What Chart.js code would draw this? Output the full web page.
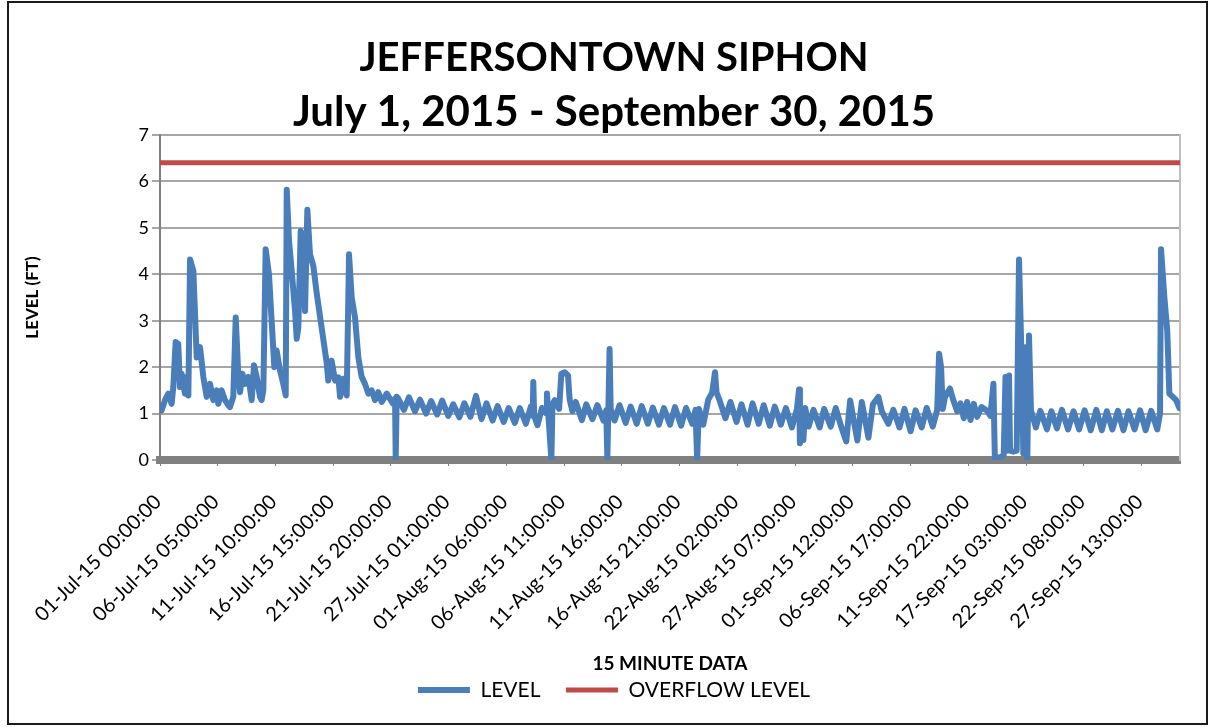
<!DOCTYPE html>
<html>
<head>
<meta charset="utf-8">
<title>Jeffersontown Siphon</title>
<script src="https://cdn.jsdelivr.net/npm/chart.js@4.4.1/dist/chart.umd.min.js"></script>
<style>
  html, body { margin: 0; padding: 0; background: #fff; }
  #wrap { position: relative; width: 1213px; height: 727px; }
  #wrap canvas { position: absolute; left: 0; top: 0; }
  #frame { position: absolute; left: 7px; top: 1px; width: 1201px; height: 724px;
           border: 2px solid #1a1a1a; box-sizing: border-box; pointer-events: none; }
</style>
</head>
<body>
<div id="wrap">
  <canvas id="chart" width="1213" height="727"></canvas>
  <div id="frame"></div>
</div>
<script>
// time axis is in days since 01-Jul-15 00:00 (15 minute samples)
const levelDays = [
  0.15, 0.45, 0.75, 1.05, 1.20, 1.41, 1.65, 1.80, 1.95, 2.25, 2.41, 2.56, 2.71, 3.01, 3.31, 3.61,
  3.91, 4.21, 4.51, 4.81, 5.11, 5.26, 5.56, 5.86, 6.16, 6.31, 6.61, 6.83, 7.07, 7.22, 7.43, 7.67,
  7.97, 8.27, 8.48, 8.72, 9.02, 9.17, 9.32, 9.53, 9.83, 10.07, 10.31, 10.52, 10.82, 11.12, 11.34, 11.43,
  11.64, 11.88, 12.18, 12.33, 12.48, 12.69, 12.93, 13.08, 13.29, 13.53, 13.83, 14.13, 14.43, 14.73, 15.03, 15.18,
  15.48, 15.79, 16.09, 16.24, 16.54, 16.84, 17.05, 17.29, 17.59, 17.89, 18.19, 18.49, 18.79, 19.09, 19.39, 19.69,
  20.00, 20.45, 21.00, 21.20, 21.26, 21.35, 21.50, 22.00, 22.45, 23.00, 23.45, 24.00, 24.45, 25.00, 25.45, 26.00,
  26.45, 27.00, 27.45, 28.00, 28.50, 29.00, 29.45, 30.00, 30.45, 31.00, 31.45, 32.00, 32.45, 33.00, 33.45, 33.62,
  33.67, 33.75, 34.05, 34.45, 34.85, 34.90, 35.03, 35.30, 35.40, 35.60, 36.00, 36.20, 36.50, 36.80, 36.95, 37.20,
  37.50, 38.05, 38.45, 39.00, 39.45, 40.00, 40.25, 40.35, 40.55, 40.65, 41.00, 41.45, 42.00, 42.45, 43.00, 43.45,
  44.00, 44.45, 45.00, 45.45, 46.00, 46.45, 47.00, 47.45, 48.00, 48.30, 48.45, 48.60, 49.00, 49.45, 49.80, 50.06,
  50.20, 50.45, 51.00, 51.45, 52.00, 52.45, 53.00, 53.45, 54.00, 54.45, 55.00, 55.45, 56.00, 56.45, 57.00, 57.45,
  57.64, 57.72, 57.90, 58.03, 58.20, 58.50, 58.95, 59.50, 59.90, 60.50, 60.95, 61.40, 61.90, 62.25, 62.90, 63.30,
  63.90, 64.30, 64.80, 65.10, 65.70, 66.15, 66.70, 67.15, 67.70, 68.15, 68.70, 69.15, 69.70, 70.10, 70.27, 70.45,
  70.60, 70.80, 71.25, 71.55, 71.90, 72.20, 72.50, 72.80, 73.10, 73.40, 73.70, 74.10, 74.60, 74.90, 75.17, 75.30,
  75.80, 76.10, 76.26, 76.37, 76.58, 76.67, 76.97, 77.27, 77.48, 77.72, 77.87, 78.02, 78.23, 78.38, 78.56, 79.00,
  79.40, 80.00, 80.40, 80.90, 81.35, 81.90, 82.40, 82.90, 83.40, 83.95, 84.45, 84.95, 85.40, 85.90, 86.40, 86.90,
  87.35, 87.90, 88.40, 88.90, 89.40, 89.95, 90.20, 90.29, 90.59, 90.85, 91.04, 91.35, 91.65, 91.95
];
const levelFt = [
  1.07, 1.29, 1.43, 1.21, 1.57, 2.54, 2.50, 1.57, 1.86, 1.43, 1.79, 1.39, 4.32, 4.07, 2.21, 2.43,
  1.79, 1.36, 1.64, 1.29, 1.50, 1.21, 1.50, 1.29, 1.18, 1.14, 1.36, 3.07, 1.79, 1.46, 1.86, 1.64,
  1.79, 1.29, 2.04, 1.79, 1.36, 1.29, 1.50, 4.54, 4.00, 3.00, 2.00, 2.36, 1.93, 1.64, 1.39, 5.82,
  4.71, 4.07, 3.21, 2.61, 2.86, 4.93, 4.79, 3.21, 5.39, 4.43, 4.18, 3.60, 3.10, 2.60, 2.10, 1.71,
  2.14, 1.71, 1.78, 1.36, 1.75, 1.39, 4.43, 3.50, 3.07, 2.21, 1.79, 1.64, 1.43, 1.50, 1.29, 1.46,
  1.25, 1.43, 1.22, 1.32, 0.02, 1.36, 1.32, 1.08, 1.35, 1.05, 1.30, 1.00, 1.27, 0.98, 1.28, 0.95,
  1.20, 0.92, 1.22, 0.93, 1.38, 0.88, 1.22, 0.85, 1.16, 0.82, 1.12, 0.80, 1.12, 0.78, 1.15, 0.95,
  1.68, 0.95, 0.75, 1.12, 1.00, 1.43, 0.96, 0.02, 1.20, 1.29, 1.10, 1.86, 1.89, 1.82, 1.30, 1.05,
  1.25, 0.86, 1.20, 0.88, 1.18, 0.85, 1.07, 0.02, 2.39, 1.10, 0.85, 1.18, 0.80, 1.15, 0.78, 1.16,
  0.78, 1.13, 0.76, 1.12, 0.76, 1.14, 0.74, 1.12, 0.78, 1.08, 0.02, 1.10, 0.76, 1.30, 1.45, 1.89,
  1.45, 1.30, 0.90, 1.25, 0.82, 1.20, 0.76, 1.22, 0.78, 1.18, 0.74, 1.15, 0.76, 1.12, 0.70, 1.10,
  1.52, 0.36, 1.00, 0.43, 1.12, 0.72, 1.08, 0.70, 1.10, 0.72, 1.12, 0.75, 0.40, 1.28, 0.42, 1.25,
  0.48, 1.20, 1.36, 1.05, 0.78, 1.08, 0.70, 1.10, 0.62, 1.07, 0.70, 1.12, 0.72, 1.08, 2.29, 2.00,
  1.10, 1.36, 1.54, 1.29, 1.05, 1.22, 0.90, 1.25, 0.86, 1.21, 0.93, 1.14, 1.06, 0.95, 1.64, 0.05,
  0.06, 0.10, 1.79, 0.20, 1.82, 0.20, 0.18, 0.20, 4.32, 2.07, 0.14, 2.43, 0.03, 2.68, 1.07, 0.70,
  1.06, 0.66, 1.05, 0.68, 1.08, 0.66, 1.05, 0.66, 1.07, 0.64, 1.08, 0.64, 1.05, 0.66, 1.06, 0.64,
  1.05, 0.66, 1.07, 0.64, 1.06, 0.66, 1.00, 4.54, 3.50, 2.79, 1.43, 1.36, 1.29, 1.12
];
const overflowDays = [0, 92];
const overflowFt = [6.4, 6.4];

const tickLabels = [
  '01-Jul-15 00:00:00', '06-Jul-15 05:00:00', '11-Jul-15 10:00:00', '16-Jul-15 15:00:00',
  '21-Jul-15 20:00:00', '27-Jul-15 01:00:00', '01-Aug-15 06:00:00', '06-Aug-15 11:00:00',
  '11-Aug-15 16:00:00', '16-Aug-15 21:00:00', '22-Aug-15 02:00:00', '27-Aug-15 07:00:00',
  '01-Sep-15 12:00:00', '06-Sep-15 17:00:00', '11-Sep-15 22:00:00', '17-Sep-15 03:00:00',
  '22-Sep-15 08:00:00', '27-Sep-15 13:00:00'
];
const tickStepDays = 125 / 24;   // a label every 500 samples

Chart.defaults.font.family = "Lato, 'Open Sans', sans-serif";
Chart.defaults.color = '#000';

new Chart(document.getElementById('chart'), {
  type: 'line',
  data: {
    datasets: [{
      label: 'LEVEL    ',
      data: levelDays.map((d, i) => ({ x: d, y: levelFt[i] })),
      borderColor: '#4a7ebb',
      backgroundColor: '#4a7ebb',
      borderWidth: 6,
      pointRadius: 0,
      tension: 0,
      borderJoinStyle: 'round',
      borderCapStyle: 'round'
    }, {
      label: 'OVERFLOW LEVEL',
      data: overflowDays.map((d, i) => ({ x: d, y: overflowFt[i] })),
      borderColor: '#be4b48',
      backgroundColor: '#be4b48',
      borderWidth: 5,
      pointRadius: 0
    }]
  },
  options: {
    responsive: false,
    animation: false,
    events: [],
    layout: { padding: { left: 15, right: 0, top: 0, bottom: 16.5 } },
    scales: {
      x: {
        type: 'linear',
        min: 0,
        max: 92,
        afterBuildTicks: (scale) => {
          scale.ticks = tickLabels.map((t, i) => ({ value: i * tickStepDays }));
        },
        afterFit: (scale) => { scale.height = 215.5; },
        ticks: {
          autoSkip: false,
          minRotation: 45,
          maxRotation: 45,
          padding: 24,
          labelOffset: -2,
          font: { size: 20 },
          callback: (v, i) => tickLabels[i]
        },
        grid: { drawOnChartArea: false, tickLength: 6, color: '#808080' },
        border: { color: '#808080', width: 8 },
        title: {
          display: true,
          text: '15 MINUTE DATA',
          font: { size: 19, weight: 'bold' },
          padding: 0
        }
      },
      y: {
        min: 0,
        max: 7,
        afterFit: (scale) => { scale.width = 145; },
        ticks: { stepSize: 1, padding: 3, font: { size: 18 } },
        grid: { color: '#a6a6a6', lineWidth: 2, tickLength: 8 },
        border: { color: '#808080', width: 2 },
        title: {
          display: true,
          text: 'LEVEL (FT)',
          font: { size: 17, weight: 'bold' },
          padding: { top: 7, bottom: 0 }
        }
      },
      // empty right-hand axis: only its edge line is shown
      yRight: {
        position: 'right',
        min: 0,
        max: 7,
        afterFit: (scale) => { scale.width = 33; },
        ticks: { display: false },
        grid: { display: false, drawTicks: false },
        border: { display: true, color: '#bfbfbf', width: 2 }
      }
    },
    plugins: {
      title: {
        display: true,
        text: 'JEFFERSONTOWN SIPHON',
        font: { size: 40, weight: 'bold', lineHeight: 1 },
        padding: { top: 38, bottom: 0 }
      },
      subtitle: {
        display: true,
        text: 'July 1, 2015 - September 30, 2015',
        color: '#000',
        font: { size: 42, weight: 'bold', lineHeight: 1 },
        padding: { top: 13, bottom: 2 }
      },
      legend: {
        position: 'bottom',
        labels: {
          usePointStyle: true,
          pointStyle: 'line',
          pointStyleWidth: 52,
          padding: 4,
          font: { size: 21 }
        }
      },
      tooltip: { enabled: false }
    }
  }
});
</script>
</body>
</html>
